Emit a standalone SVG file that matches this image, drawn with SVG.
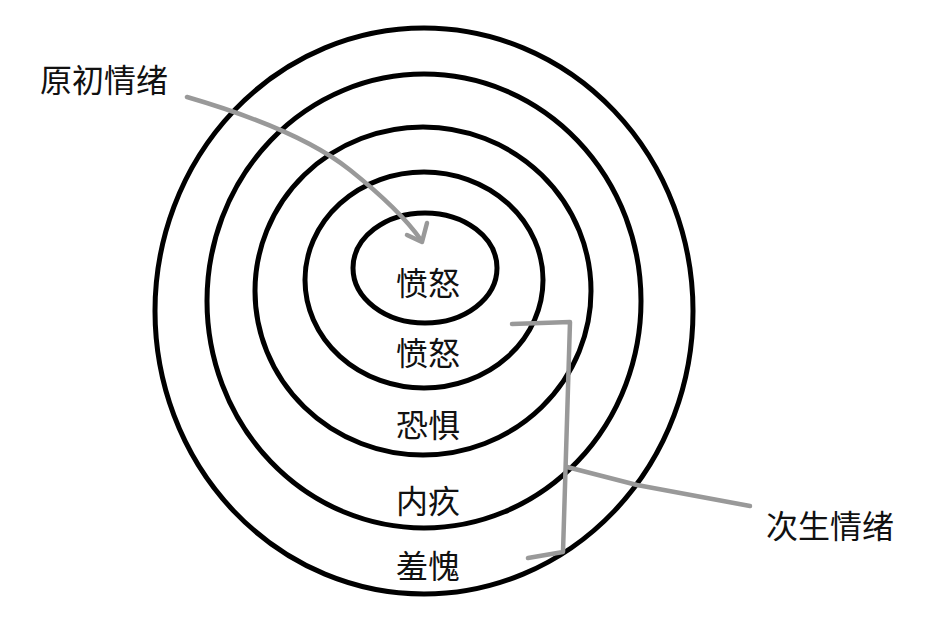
<svg xmlns="http://www.w3.org/2000/svg" width="935" height="623" viewBox="0 0 935 623">
<style>
.ring{fill:none;stroke:#000;stroke-width:5;}
.lbl{font-family:"Noto Sans CJK SC","Noto Sans CJK TC",sans-serif;font-size:32px;fill:#111;text-anchor:middle;dominant-baseline:central;}
.side{font-family:"Noto Sans CJK SC","Noto Sans CJK TC",sans-serif;font-size:32px;fill:#111;dominant-baseline:central;}
.con{fill:none;stroke:#999;stroke-width:4.5;stroke-linecap:round;stroke-linejoin:round;}
</style>
<rect width="935" height="623" fill="#fff"/>
<g id="ring-shame">
<ellipse class="ring" cx="424" cy="311" rx="269" ry="283"/>
<text class="lbl" x="428" y="564">羞愧</text>
</g>
<g id="ring-guilt">
<ellipse class="ring" cx="424" cy="301" rx="217" ry="227"/>
<text class="lbl" x="428" y="499">内疚</text>
</g>
<g id="ring-fear">
<ellipse class="ring" cx="423" cy="291" rx="168" ry="164"/>
<text class="lbl" x="428" y="423">恐惧</text>
</g>
<g id="ring-anger">
<ellipse class="ring" cx="424" cy="280" rx="119" ry="108"/>
<text class="lbl" x="428" y="351">愤怒</text>
</g>
<g id="core-anger">
<ellipse class="ring" cx="425" cy="268" rx="72" ry="55"/>
<text class="lbl" x="428" y="281">愤怒</text>
</g>
<g id="label-primary">
<text class="side" x="40" y="78">原初情绪</text>
</g>
<g id="label-secondary">
<text class="side" x="766" y="524">次生情绪</text>
</g>
<g id="connectors">
<path class="con" d="M187,97 Q300,130 350,170 T421,240"/>
<polyline class="con" points="407,235 422,242 427,223"/>
<path class="con" d="M512,324 L570,322 L563,552 L528,558"/>
<path class="con" d="M567,467 L637,485 L750,506"/>
</g>
</svg>
